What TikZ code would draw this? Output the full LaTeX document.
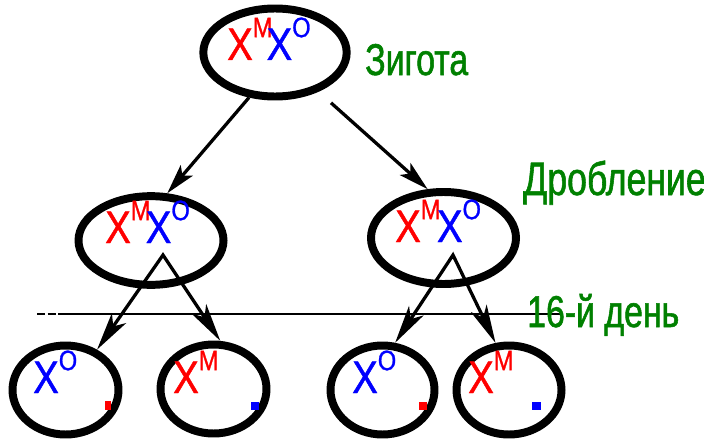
\documentclass[tikz,border=0pt]{standalone}
\usepackage{fontspec}
\newfontfamily\narrowsans[FakeStretch=0.76, FakeBold=1.2]{Liberation Sans}
\newfontfamily\chrsans[FakeStretch=0.84, FakeBold=1]{Liberation Sans}
\usetikzlibrary{arrows.meta,shapes.geometric}
\definecolor{stagegreen}{RGB}{0,128,0}
\definecolor{chrred}{RGB}{255,0,0}
\definecolor{chrblue}{RGB}{0,0,255}
% X chromosome with its raised index
\newcommand\chrom[2]{\textcolor{#1}{\fontsize{39}{40}\selectfont X\raisebox{19.5pt}{\fontsize{24}{24}\selectfont #2}}}
\tikzset{
  cell/.style={ellipse, draw=black, line width=6.8pt, inner sep=0pt},
  bigcell/.style={cell, minimum width=43.5mm, minimum height=26.6mm},
  smallcell/.style={cell, minimum width=31.8mm, minimum height=26.7mm},
  chrlabel/.style={anchor=base west, inner sep=0pt, font=\chrsans},
  stage/.style={anchor=base west, inner sep=0pt, text=stagegreen,
    font=\narrowsans\fontsize{38}{40}\selectfont},
  division/.style={line width=2.8pt, -{Stealth[length=9mm, width=4.8mm, inset=2mm]}},
  split/.style={line width=2.8pt, line join=miter,
    {Stealth[length=11.5mm, width=5.2mm, inset=3mm]}-{Stealth[length=11.5mm, width=5.2mm, inset=3mm]}},
  dayline/.style={line width=2pt},
}
\begin{document}
\begin{tikzpicture}[x=0.3mm, y=-0.3mm]
\useasboundingbox (0,0) rectangle (704,442);

% cells
\node[bigcell, minimum width=43mm, minimum height=26.4mm] (zyg) at (275,52.5) {};
\node[bigcell] (cl) at (151,240.5) {};
\node[bigcell, minimum height=27.6mm] (cr) at (443.5,238) {};
\node[smallcell] (bl1) at (65.5,390) {};
\node[smallcell] (bl2) at (213.5,389) {};
\node[smallcell, minimum width=31.2mm] (br1) at (382.5,390) {};
\node[smallcell, minimum width=31.5mm] (br2) at (509,390) {};

% day-16 boundary
\coordinate (dashL) at (37,314);
\coordinate (dayL) at (66,314);
\coordinate (dayR) at (560,314);
\draw[dayline, dash pattern=on 2.4mm off 0.8mm] (dashL) -- (dayL);
\draw[dayline] (dayL) -- (dayR);

% first cleavage
\draw[division] (zyg.240) -- (cl.71);
\draw[division, shorten <=5mm] (zyg.-42) -- (cr.108);

% second step
\coordinate (apexL) at (163,255);
\coordinate (apexR) at (453,255);
\draw[split] (bl1.52) -- (apexL) -- (bl2.82);
\draw[split] (br1.75) -- (apexR) -- (br2.106);

% chromosome labels
\node[chrlabel] (tzyg) at (227,60) {\chrom{chrred}{M}\kern-5pt\chrom{chrblue}{O}};
\node[chrlabel] (tcl) at (105,243) {\chrom{chrred}{M}\kern-4pt\chrom{chrblue}{O}};
\node[chrlabel] (tcr) at (395,242) {\chrom{chrred}{M}\kern-3pt\chrom{chrblue}{O}};
\node[chrlabel] (tbl1) at (33,393) {\chrom{chrblue}{O}};
\node[chrlabel] (tbl2) at (173,393) {\chrom{chrred}{M}};
\node[chrlabel] (tbr1) at (352,393) {\chrom{chrblue}{O}};
\node[chrlabel] (tbr2) at (468,393) {\chrom{chrred}{M}};

% inactivated X remnants
\fill[chrred] (104.5,401) rectangle (111,410);
\fill[chrblue] (251,402) rectangle (259,410);
\fill[chrred] (419,402) rectangle (427,410);
\fill[chrblue] (532,402) rectangle (541,410);

% stage names
\node[stage] (szyg) at (365,75) {Зигота};
\node[stage, font=\narrowsans\fontsize{40}{42}\selectfont] (sdrob) at (523,195) {Дробление};
\node[stage] (sday) at (527,327) {16-й день};
\end{tikzpicture}
\end{document}
